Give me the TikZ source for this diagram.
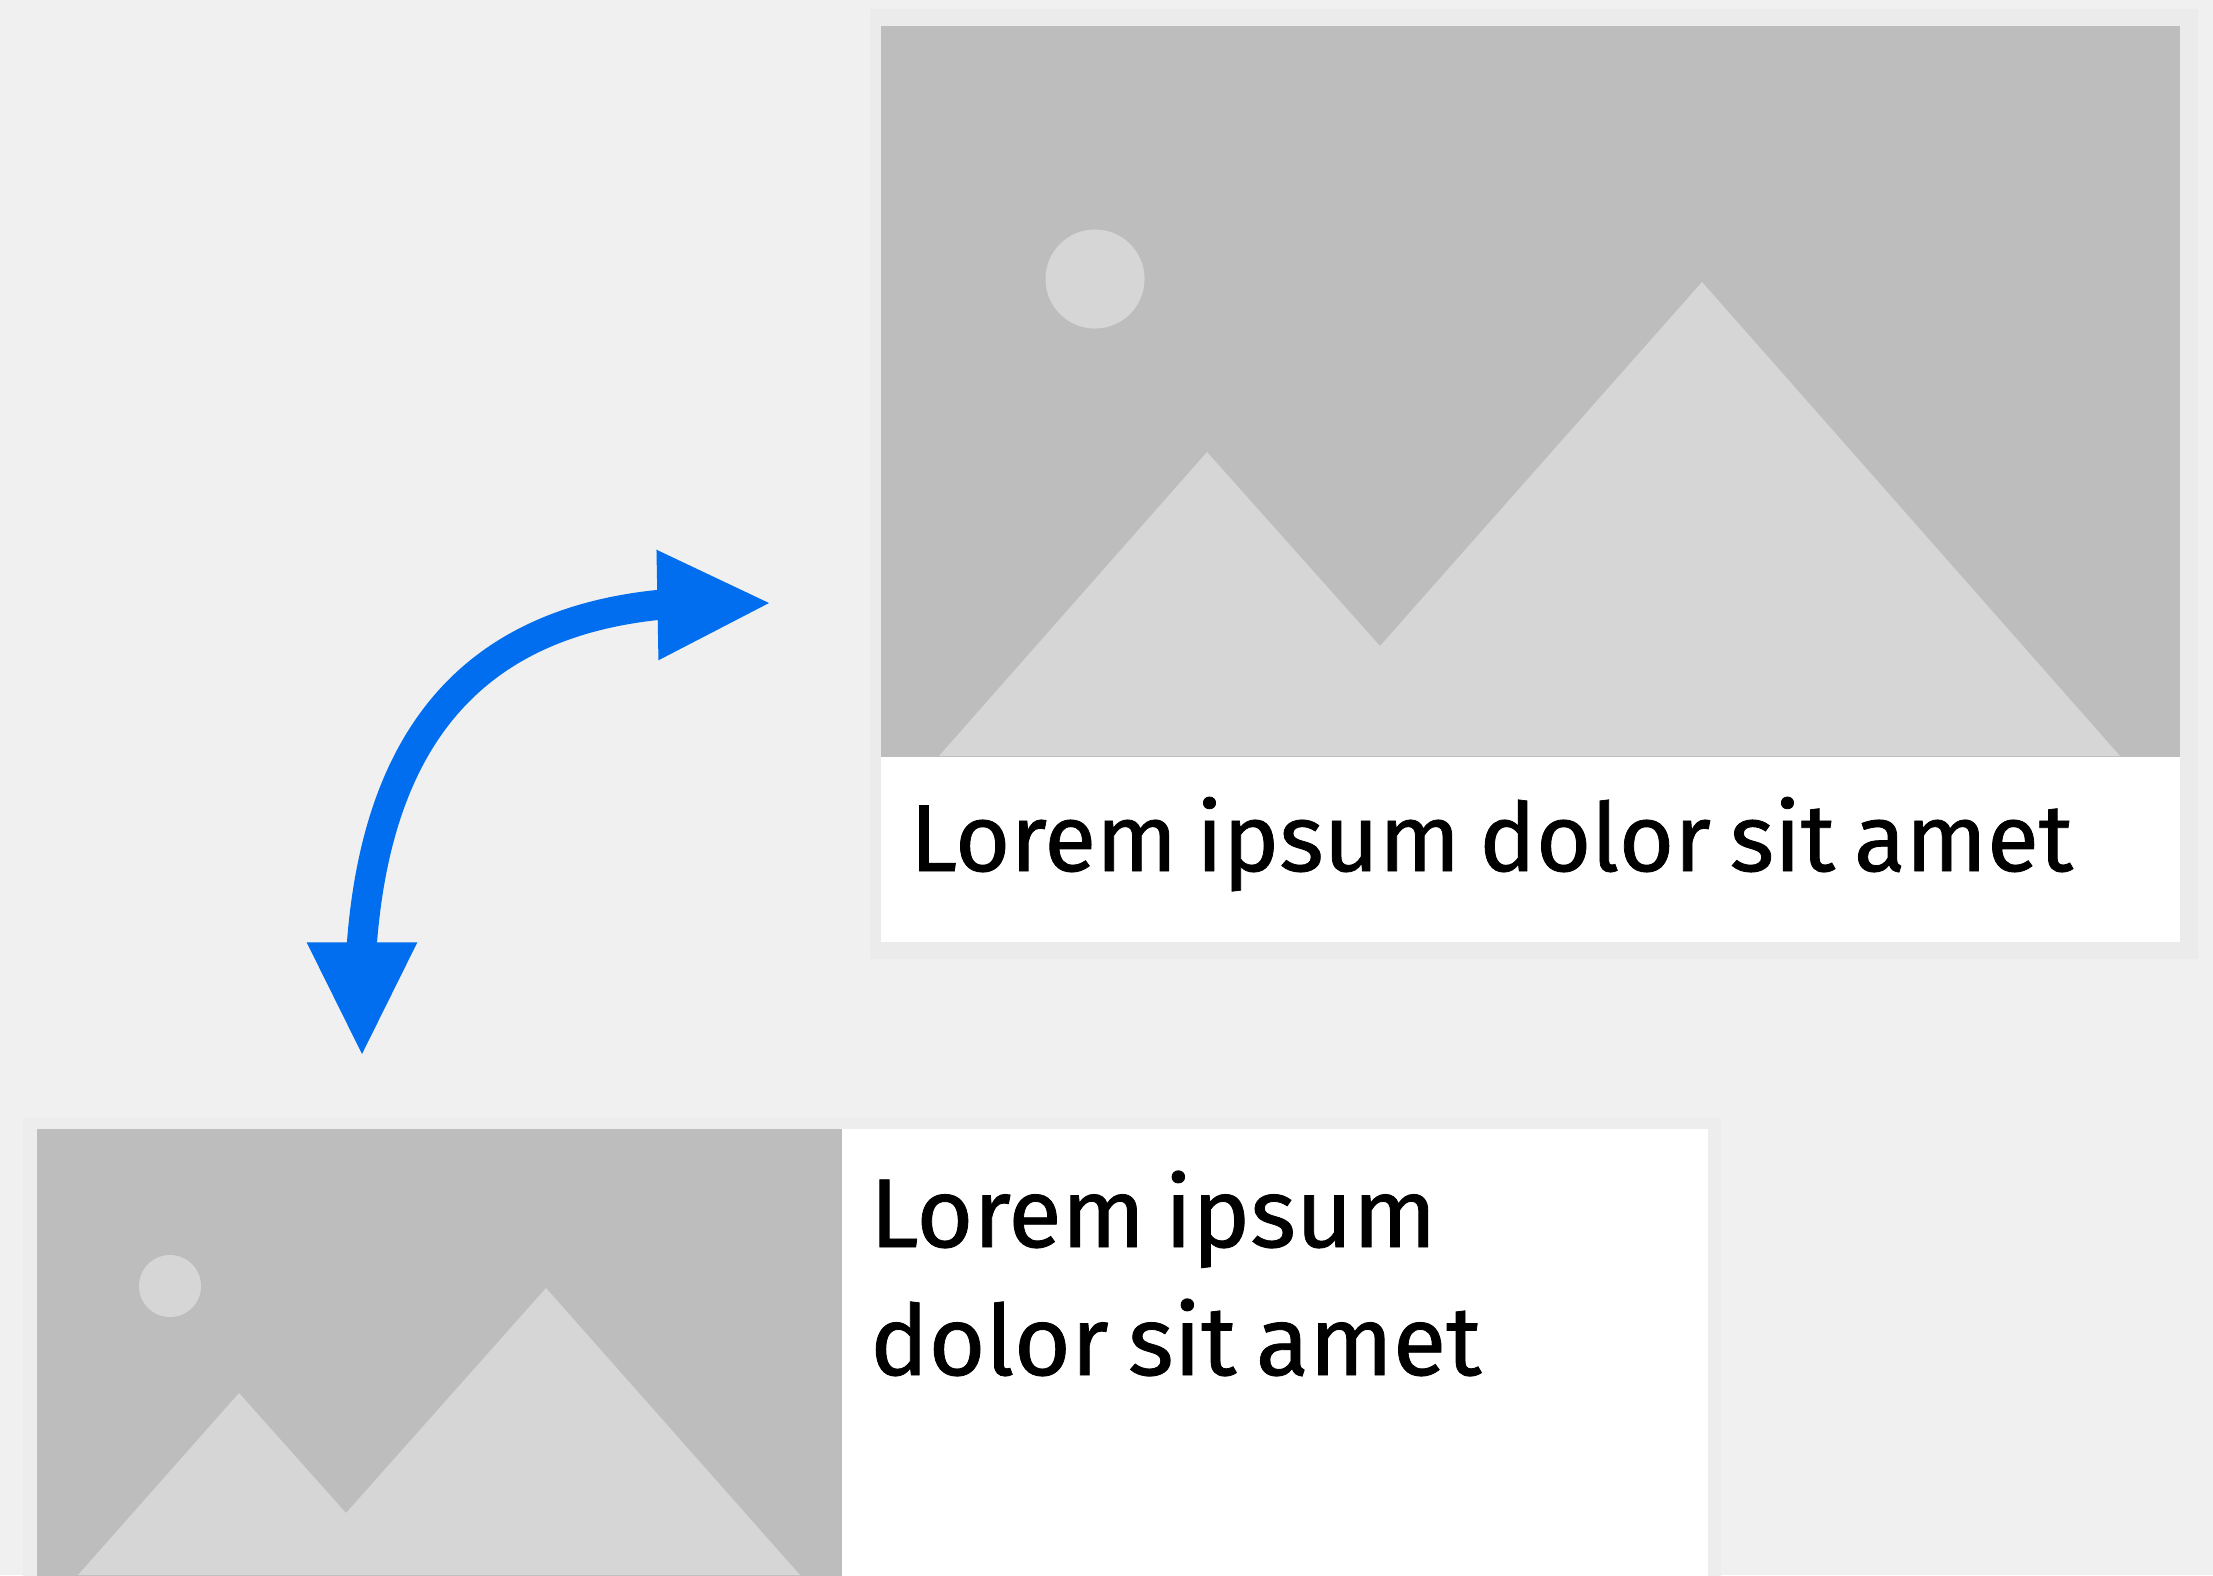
\documentclass[tikz,border=0pt]{standalone}
\usepackage{fontspec}
\setmainfont{Fira Sans}[FakeBold=0.8,WordSpace=0.75]
\usepackage{tikz}
\usetikzlibrary{arrows.meta}

\begin{document}
\begin{tikzpicture}[x=.01cm,y=-.01cm,semithick,
    halo/.style={fill=haloGray,inner sep=0pt,anchor=north west},
    photo/.style={fill=photoGray,inner sep=0pt,anchor=north west},
    panel/.style={fill=white,inner sep=0pt,anchor=north west},
    sun/.style={circle,fill=hillGray,inner sep=0pt},
    hill/.style={fill=hillGray},
    title/.style={anchor=base west,inner sep=0pt,font=\fontsize{27}{28}\selectfont,text=black},
    titlebig/.style={title,font=\fontsize{27.8}{28}\selectfont},
    swap/.style={{Triangle[length=1.115cm,width=1.1cm,line width=.6pt]}-{Triangle[length=1.115cm,width=1.1cm,line width=.6pt]},
      line width=.3cm,color=arrowBlue}]
    \definecolor{backGray}{HTML}{F0F0F0}
    \definecolor{haloGray}{HTML}{EBEBEB}
    \definecolor{faintGray}{HTML}{EDEDED}
    \definecolor{photoGray}{HTML}{BDBDBD}
    \definecolor{hillGray}{HTML}{D6D6D6}
    \definecolor{arrowBlue}{HTML}{006EEF}
    \useasboundingbox (0,0) rectangle (2213,1575);
    \fill[backGray] (0,0) rectangle (2213,1575);

    % wide card
    \node[halo,minimum width=13.27cm,minimum height=9.49cm]  (haloA)  at (869,8)    {};
    \node[photo,minimum width=12.98cm,minimum height=7.31cm] (photoA) at (880,25)   {};
    \node[panel,minimum width=12.98cm,minimum height=1.85cm] (panelA) at (880,756)  {};
    \node[sun,minimum size=.99cm] (sunA) at (1095,279) {};
    \fill[hill] (939,756) -- (1207,452) -- (1380,646) -- (1702,282) -- (2120,756) -- cycle;
    \node[title] (titleA) at (909,871) {Lorem ipsum dolor sit amet};

    % flat card
    \node[halo,fill=faintGray,minimum width=16.97cm,minimum height=4.59cm] (haloB) at (22,1116) {};
    \node[photo,minimum width=8.05cm,minimum height=4.47cm]  (photoB) at (36,1128)  {};
    \node[panel,minimum width=8.65cm,minimum height=4.47cm]  (panelB) at (841,1128) {};
    \node[sun,minimum size=.62cm] (sunB) at (170,1286) {};
    \fill[hill] (78,1575) -- (239,1393) -- (346,1513) -- (546,1288) -- (800,1575) -- cycle;
    \node[titlebig] (titleB) at (869,1247) {Lorem ipsum};
    \node[titlebig] (titleC) at (869,1375) {dolor sit amet};

    \coordinate (tipB) at (362,1054);
    \coordinate (endB) at (362,942);
    \coordinate (endA) at (657,605);
    \coordinate (tipA) at (769,603);
    \draw[swap] (tipB) -- (endB) .. controls (378,740) and (470,625) .. (endA) -- (tipA);
\end{tikzpicture}
\end{document}
